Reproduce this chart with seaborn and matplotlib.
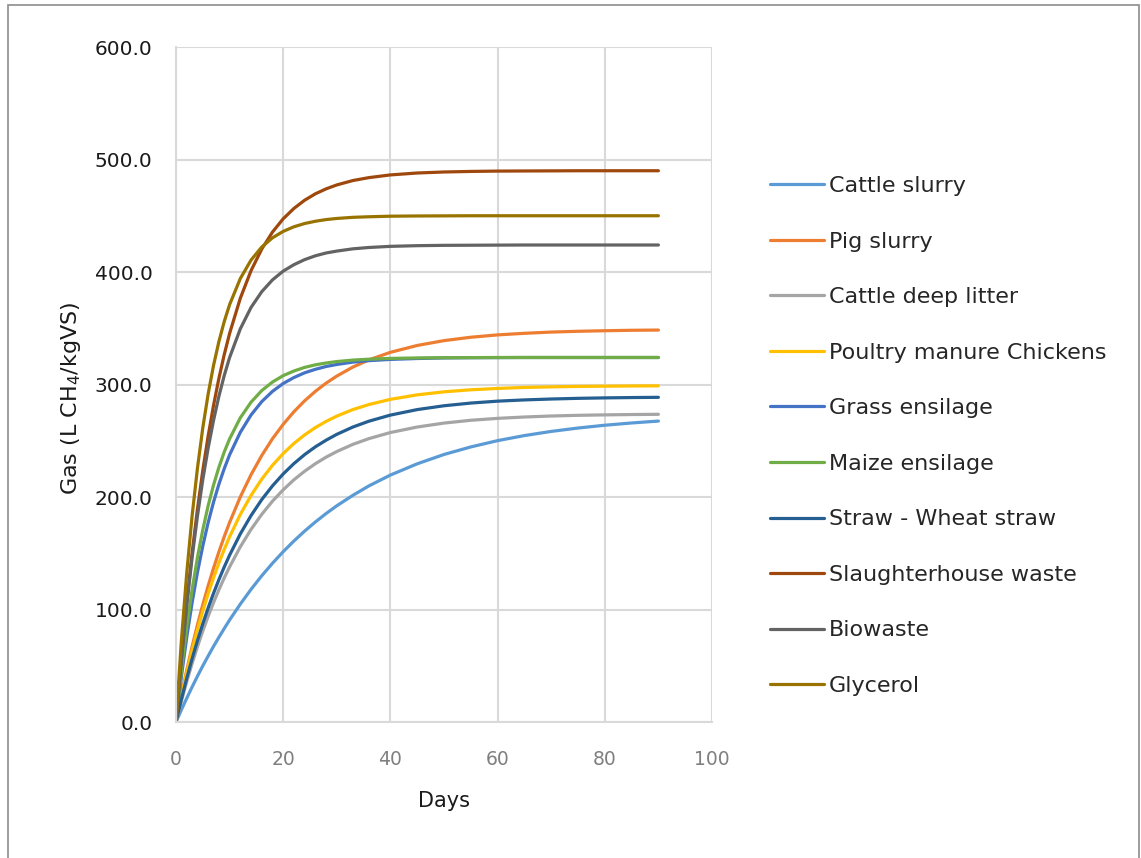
import matplotlib
matplotlib.use("Agg")
import matplotlib.pyplot as plt
from matplotlib.patches import Rectangle
import pandas as pd
import seaborn as sns

# Cumulative methane yield per substrate (L CH4 / kg VS) against digestion time
days = [0, 1, 2, 3, 4, 5, 6, 7, 8, 9, 10, 12, 14, 16, 18, 20, 22, 24, 26, 28, 30,
        33, 36, 40, 45, 50, 55, 60, 65, 70, 75, 80, 85, 90]

cattle_slurry = [0, 10.8, 21.1, 31.1, 40.7, 49.9, 58.7, 67.2, 75.3, 83.1, 90.7, 104.8, 117.9,
                 130.0, 141.1, 151.4, 160.9, 169.7, 177.8, 185.3, 192.2, 201.5, 209.9, 219.5,
                 229.5, 237.8, 244.5, 250.1, 254.6, 258.3, 261.3, 263.8, 265.8, 267.5]
pig_slurry = [0, 23.9, 46.2, 66.9, 86.3, 104.3, 121.1, 136.7, 151.2, 164.8, 177.4, 200.1, 219.8,
              236.9, 251.8, 264.6, 275.8, 285.5, 293.9, 301.2, 307.5, 315.5, 321.9, 328.6,
              334.7, 339.0, 342.0, 344.1, 345.5, 346.6, 347.3, 347.8, 348.2, 348.4]
cattle_deep_litter = [0, 18.5, 35.8, 51.9, 66.9, 80.9, 94.0, 106.1, 117.5, 128.1, 137.9, 155.7,
                      171.2, 184.6, 196.3, 206.4, 215.3, 222.9, 229.6, 235.4, 240.4, 246.8,
                      251.9, 257.3, 262.2, 265.7, 268.2, 269.9, 271.1, 272.0, 272.6, 273.0,
                      273.3, 273.5]
poultry_manure = [0, 23.0, 44.2, 63.8, 81.9, 98.6, 114.0, 128.2, 141.3, 153.4, 164.7, 184.5,
                  201.4, 215.9, 228.2, 238.6, 247.6, 255.2, 261.7, 267.2, 271.9, 277.7, 282.2,
                  286.8, 290.8, 293.5, 295.3, 296.5, 297.4, 297.9, 298.3, 298.5, 298.7, 298.8]
grass_ensilage = [0, 40.1, 75.2, 105.9, 132.9, 156.5, 177.3, 195.4, 211.3, 225.2, 237.5, 257.5,
                  272.9, 284.8, 293.9, 300.9, 306.2, 310.4, 313.5, 316.0, 317.8, 319.9, 321.2,
                  322.3, 323.1, 323.6, 323.8, 323.9, 324.0, 324.0, 324.0, 324.0, 324.0, 324.0]
maize_ensilage = [0, 45.1, 84.0, 117.4, 146.2, 170.9, 192.3, 210.6, 226.4, 240.0, 251.7, 270.4,
                  284.3, 294.6, 302.2, 307.9, 312.0, 315.2, 317.5, 319.1, 320.4, 321.7, 322.5,
                  323.2, 323.6, 323.8, 323.9, 324.0, 324.0, 324.0, 324.0, 324.0, 324.0, 324.0]
wheat_straw = [0, 20.1, 38.8, 56.2, 72.3, 87.4, 101.4, 114.4, 126.5, 137.8, 148.3, 167.2, 183.5,
               197.7, 209.9, 220.5, 229.7, 237.7, 244.6, 250.5, 255.7, 262.2, 267.4, 272.8,
               277.7, 281.1, 283.5, 285.2, 286.3, 287.1, 287.7, 288.1, 288.4, 288.6]
slaughterhouse = [0, 56.3, 106.1, 150.2, 189.2, 223.7, 254.3, 281.4, 305.4, 326.6, 345.4, 376.7,
                  401.2, 420.4, 435.5, 447.3, 456.5, 463.8, 469.5, 473.9, 477.4, 481.3, 483.9,
                  486.3, 488.0, 488.9, 489.4, 489.7, 489.8, 489.9, 490.0, 490.0, 490.0, 490.0]
biowaste = [0, 55.0, 103.5, 146.0, 183.0, 215.5, 243.5, 268.0, 289.5, 308.0, 324.0, 349.5,
            368.5, 382.5, 393.0, 400.8, 406.5, 411.0, 414.4, 416.9, 418.6, 420.6, 421.8, 422.8,
            423.4, 423.7, 423.8, 423.9, 424.0, 424.0, 424.0, 424.0, 424.0, 424.0]
glycerol = [0, 71.9, 132.3, 183.0, 225.6, 261.5, 291.6, 316.9, 338.1, 356.0, 371.0, 394.2,
            410.6, 422.2, 430.4, 436.1, 440.2, 443.1, 445.1, 446.6, 447.6, 448.6, 449.1, 449.6,
            449.8, 449.9, 450.0, 450.0, 450.0, 450.0, 450.0, 450.0, 450.0, 450.0]

labels = ["Cattle slurry", "Pig slurry", "Cattle deep litter", "Poultry manure Chickens",
          "Grass ensilage", "Maize ensilage", "Straw - Wheat straw", "Slaughterhouse waste",
          "Biowaste", "Glycerol"]
values = [cattle_slurry, pig_slurry, cattle_deep_litter, poultry_manure, grass_ensilage,
          maize_ensilage, wheat_straw, slaughterhouse, biowaste, glycerol]
colors = ["#5B9BD5", "#ED7D31", "#A5A5A5", "#FFC000", "#4472C4",
          "#70AD47", "#255E91", "#9E480E", "#636363", "#997300"]

df = pd.concat(
    [pd.DataFrame({"Days": days, "Gas": v, "Substrate": name}) for name, v in zip(labels, values)],
    ignore_index=True,
)

sns.set_theme(style="white")
plt.rcParams["font.family"] = ["DejaVu Sans"]
plt.rcParams["mathtext.default"] = "regular"

W, H = 1141, 858
fig = plt.figure(figsize=(W / 100, H / 100), dpi=100)
fig.patch.set_facecolor("white")

ax = fig.add_axes([176 / W, 1 - 722 / H, (712 - 176) / W, (722 - 47) / H])

sns.lineplot(data=df, x="Days", y="Gas", hue="Substrate", hue_order=labels,
             palette=dict(zip(labels, colors)), estimator=None, sort=False,
             linewidth=2.3, solid_joinstyle="round", solid_capstyle="round", ax=ax)

ax.set_xlim(0, 100)
ax.set_ylim(0, 600)
ax.set_xticks(range(0, 101, 20))
ax.set_yticks(range(0, 601, 100))
ax.set_yticklabels([f"{v:.1f}" for v in range(0, 601, 100)])
ax.grid(True, color="#D9D9D9", linewidth=1.5)
ax.set_axisbelow(True)
for side in ["top", "right"]:
    ax.spines[side].set_visible(False)
for side in ["left", "bottom"]:
    ax.spines[side].set_color("#D9D9D9")
    ax.spines[side].set_linewidth(1.5)

ax.tick_params(axis="y", length=0, pad=17, labelsize=14.5, labelcolor="#1a1a1a")
ax.tick_params(axis="x", length=0, pad=20, labelsize=13.5, labelcolor="#7f7f7f")

ax.set_xlabel("Days", fontsize=15, color="#1a1a1a", labelpad=16)
ax.set_ylabel("Gas (L CH$_4$/kgVS)", fontsize=16, color="#1a1a1a")
ax.yaxis.set_label_coords(-0.1735, 0.48)

handles, lbls = ax.get_legend_handles_labels()
ax.legend(handles, lbls, loc="upper left", bbox_to_anchor=(770 / W, 1 - 176 / H),
          bbox_transform=fig.transFigure, frameon=False, fontsize=16,
          handlelength=2.45, handletextpad=0.2, labelspacing=1.60,
          borderpad=0, borderaxespad=0)

# chart area outline
fig.add_artist(Rectangle((8 / W, -0.02), (1139 - 8) / W, 1.02 - 5 / H,
                         transform=fig.transFigure, fill=False,
                         edgecolor="#8c8c8c", linewidth=1.2))

fig.savefig("out.png", dpi=100)
